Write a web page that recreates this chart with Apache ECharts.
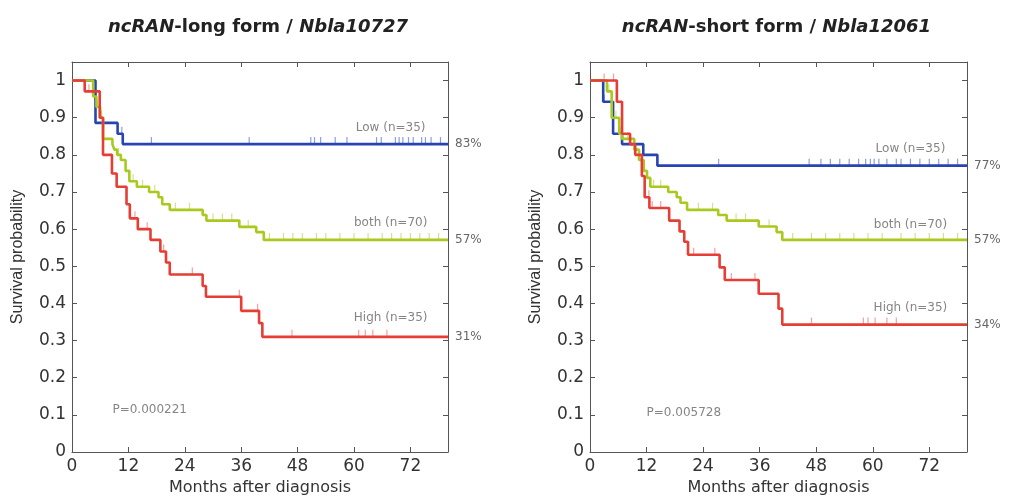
<!DOCTYPE html>
<html>
<head>
<meta charset="utf-8">
<title>ncRAN survival</title>
<script src="https://cdn.jsdelivr.net/npm/echarts@6/dist/echarts.min.js"></script>
</head>
<body style="margin:0;background:#fff">
<div id="main" style="width:1009px;height:501px;"></div>
<script>
// Kaplan-Meier curves: months -> survival
var lowL_t  = [0, 5.0, 9.7, 10.8, 80];
var lowL_s  = [1, 0.886, 0.857, 0.829, 0.829];
var bothL_t = [0, 4.5, 5.2, 6.0, 6.6, 8.6, 9.0, 9.6, 10.4, 11.4, 12.2, 13.8, 16.4, 18.4, 19.2, 20.8, 27.8, 28.6, 35.6, 39.2, 40.8, 80];
var bothL_s = [1, 0.957, 0.929, 0.9, 0.843, 0.829, 0.814, 0.8, 0.786, 0.757, 0.729, 0.714, 0.7, 0.686, 0.667, 0.652, 0.638, 0.623, 0.606, 0.592, 0.571, 0.571];
var highL_t = [0, 2.7, 5.9, 6.6, 8.5, 9.5, 11.6, 12.3, 14.0, 16.7, 18.8, 20.0, 20.8, 27.8, 28.5, 36.0, 39.8, 40.5, 80];
var highL_s = [1, 0.971, 0.9, 0.8, 0.75, 0.714, 0.667, 0.629, 0.6, 0.571, 0.54, 0.51, 0.478, 0.447, 0.418, 0.38, 0.347, 0.31, 0.31];

var lowR_t  = [0, 2.8, 4.9, 6.8, 11.3, 14.3, 80];
var lowR_s  = [1, 0.943, 0.857, 0.829, 0.8, 0.771, 0.771];
var bothR_t = [0, 3.6, 4.6, 6.2, 6.8, 9.4, 10.4, 11.4, 12.1, 12.8, 16.6, 18.4, 19.2, 20.6, 27.2, 29.0, 35.8, 39.6, 40.8, 80];
var bothR_s = [1, 0.971, 0.9, 0.857, 0.843, 0.814, 0.786, 0.757, 0.738, 0.714, 0.7, 0.686, 0.671, 0.652, 0.638, 0.623, 0.607, 0.592, 0.571, 0.571];
var highR_t = [0, 5.7, 6.8, 8.5, 9.6, 11.0, 11.6, 12.6, 16.8, 19.0, 20.0, 20.8, 27.5, 28.6, 35.8, 40.0, 40.8, 80];
var highR_s = [1, 0.943, 0.857, 0.829, 0.8, 0.743, 0.686, 0.657, 0.623, 0.594, 0.566, 0.531, 0.497, 0.463, 0.426, 0.386, 0.343, 0.343];

// censoring marks (months)
var lowL_c  = [10.6, 16.9, 37.7, 50.8, 51.6, 52.9, 56, 58.5, 64.8, 65.8, 68.8, 69.6, 70.4, 71.6, 72.6, 74.4, 75.2, 76.4, 78.4];
var bothL_c = [5.4, 6.3, 9.9, 13, 15, 17.6, 22, 25, 30, 32, 34, 37.5, 42, 45, 47, 49, 52, 54, 57, 60, 63, 66, 68, 70, 72, 74, 76, 78];
var highL_c = [3.6, 6.2, 13.4, 16, 19.5, 25.6, 35.6, 39.5, 46.8, 61, 62.4, 64, 67];
var lowR_c  = [3, 6.6, 8.6, 27.3, 46.5, 49, 51, 53, 55, 57, 58.5, 59.5, 60.3, 61.3, 63, 65, 66, 68, 70, 72, 74, 76, 78];
var bothR_c = [4, 5.5, 8, 13.5, 15, 23, 26, 31, 33, 38, 43, 47, 50, 53, 56, 59, 62, 66, 69, 72, 75, 78];
var highR_c = [3, 5, 12.5, 13.2, 15, 22, 26.5, 30, 35, 47, 58, 59, 60.5, 63, 65];

var titles   = [['ncRAN', '-long form / ', 'Nbla10727'], ['ncRAN', '-short form / ', 'Nbla12061']];
var groups   = ['Low (n=35)', 'both (n=70)', 'High (n=35)'];
var pvals    = ['P=0.000221', 'P=0.005728'];

var colors = ['#2744b3', '#a9c91f', '#e63d35'];
var censorColors = ['#6f86d6', '#c6dc66', '#f08a84'];
var WIDE = '"DejaVu Sans", Verdana, sans-serif';
var NARROW = '"Liberation Sans", Arial, sans-serif';

function pts(t, s) { return t.map(function (x, i) { return [x, s[i]]; }); }
function survAt(t, s, m) {
  var v = s[0];
  for (var i = 0; i < t.length; i++) if (t[i] <= m) v = s[i];
  return v;
}

var panels = [
  {t: [lowL_t, bothL_t, highL_t], s: [lowL_s, bothL_s, highL_s], c: [lowL_c, bothL_c, highL_c],
   lab: [[67.8, 0.872], [67.8, 0.617], [67.8, 0.36]], p: [8.6, 0.113]},
  {t: [lowR_t, bothR_t, highR_t], s: [lowR_s, bothR_s, highR_s], c: [lowR_c, bothR_c, highR_c],
   lab: [[68, 0.815], [68, 0.612], [68, 0.387]], p: [12, 0.105]}
];

var grids = [
  {left: 72, top: 62, width: 376, height: 398},
  {left: 590, top: 62, width: 377, height: 398}
];

var xAxes = [], yAxes = [], series = [], titleOpts = [];
grids.forEach(function (g, gi) {
  var tick = {show: true, inside: true, length: 5, lineStyle: {color: '#555'}};
  var line = {show: true, onZero: false, lineStyle: {color: '#555', width: 1}};
  xAxes.push({
    gridIndex: gi, type: 'value', min: 0, max: 80, interval: 12, position: 'bottom',
    axisLine: line, axisTick: tick, splitLine: {show: false},
    axisLabel: {showMaxLabel: false, fontSize: 17, color: '#333', margin: 6, fontFamily: WIDE},
    name: 'Months after diagnosis', nameLocation: 'middle', nameGap: 28,
    nameTextStyle: {fontSize: 16, color: '#333', fontFamily: WIDE}
  });
  xAxes.push({
    gridIndex: gi, type: 'value', min: 0, max: 80, interval: 12, position: 'top',
    axisLine: line, axisTick: tick, axisLabel: {show: false}, splitLine: {show: false}
  });
  yAxes.push({
    gridIndex: gi, type: 'value', min: 0, max: 1.05, interval: 0.1, position: 'left',
    axisLine: line, axisTick: tick, splitLine: {show: false},
    axisLabel: {showMaxLabel: false, fontSize: 17, color: '#333', margin: 6, fontFamily: WIDE},
    name: 'Survival probability', nameLocation: 'middle', nameGap: 46,
    nameTextStyle: {fontSize: 16, color: '#333', fontFamily: NARROW}
  });
  yAxes.push({
    gridIndex: gi, type: 'value', min: 0, max: 1.05, interval: 0.1, position: 'right',
    axisLine: line, axisTick: tick, axisLabel: {show: false}, splitLine: {show: false}
  });

  var tt = titles[gi];
  titleOpts.push({
    text: '{i|' + tt[0] + '}{b|' + tt[1] + '}{i|' + tt[2] + '}',
    left: g.left + g.width / 2 - 7, top: 13, textAlign: 'center',
    textStyle: {
      rich: {
        i: {fontSize: 18, fontWeight: 'bold', fontStyle: 'italic', color: '#222', fontFamily: WIDE},
        b: {fontSize: 18, fontWeight: 'bold', color: '#222', fontFamily: WIDE}
      }
    }
  });

  var P = panels[gi];
  for (var k = 0; k < 3; k++) {
    (function (k) {
      var last = P.s[k][P.s[k].length - 1];
      series.push({
        type: 'line', xAxisIndex: gi * 2, yAxisIndex: gi * 2, step: 'end',
        data: pts(P.t[k], P.s[k]), showSymbol: false, symbol: 'none',
        lineStyle: {color: colors[k], width: 2.6}, z: 3 + (k === 2 ? 1 : 0),
        endLabel: {show: true, formatter: Math.round(last * 100) + '%', color: '#666',
                   fontSize: 12, distance: 7, fontFamily: WIDE},
        animation: false
      });
      series.push({
        type: 'scatter', xAxisIndex: gi * 2, yAxisIndex: gi * 2,
        data: P.c[k].map(function (m) { return [m, survAt(P.t[k], P.s[k], m)]; }),
        symbol: 'rect', symbolSize: [1.2, 8], symbolOffset: [0, -3],
        itemStyle: {color: censorColors[k]}, z: 2, silent: true, animation: false
      });
    })(k);
  }
  series.push({
    type: 'scatter', xAxisIndex: gi * 2, yAxisIndex: gi * 2, symbolSize: 0, silent: true,
    data: groups.map(function (name, k) { return {value: P.lab[k], name: name}; })
      .concat([{value: P.p, name: pvals[gi], label: {align: 'left'}}]),
    label: {show: true, position: 'inside', formatter: '{b}', color: '#666', fontSize: 12,
            fontFamily: WIDE, align: 'center'},
    animation: false
  });
});

var chart = echarts.init(document.getElementById('main'));
chart.setOption({
  backgroundColor: '#fff',
  animation: false,
  title: titleOpts,
  grid: grids,
  xAxis: xAxes,
  yAxis: yAxes,
  series: series
});
</script>
</body>
</html>
